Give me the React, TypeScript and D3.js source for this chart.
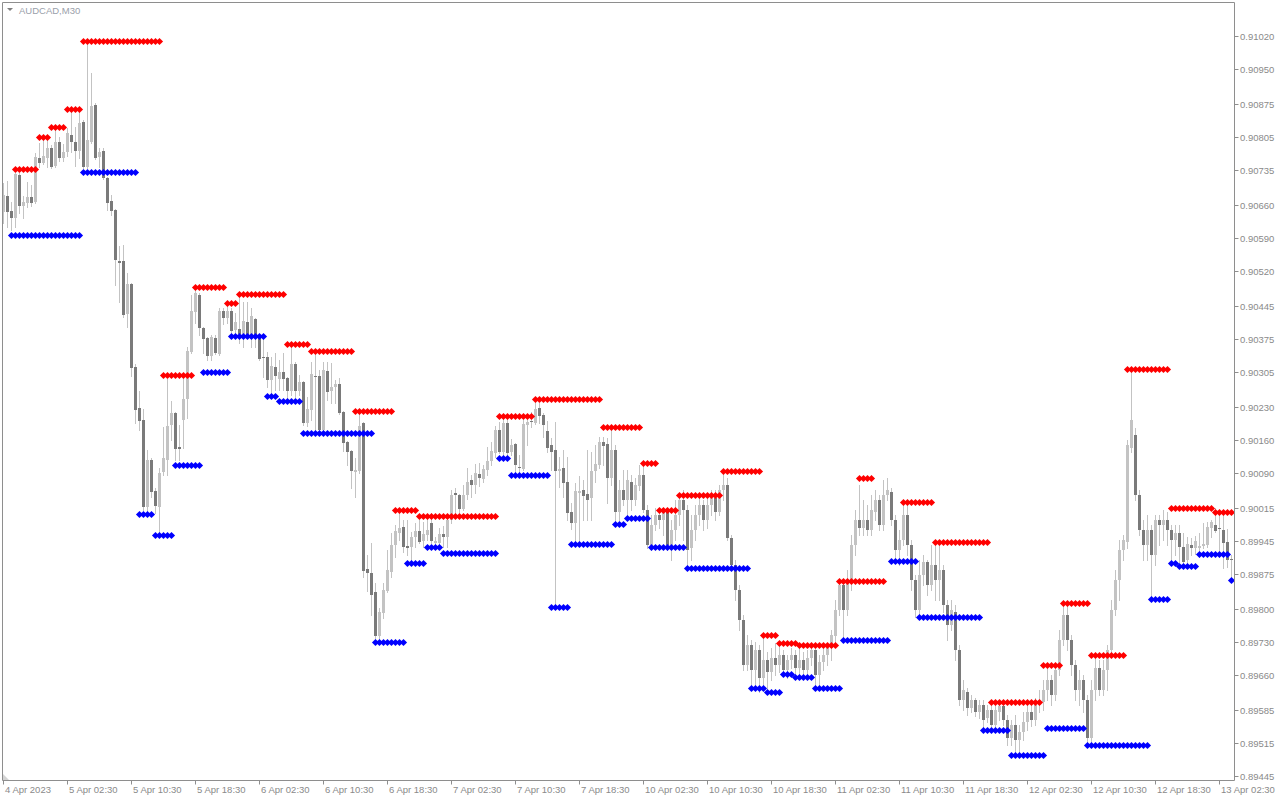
import React from "react";
import * as d3 from "d3";

// [open, high, low, close] per M30 bar, AUDCAD
const ohlc: [number, number, number, number][] = [
  [0.90645, 0.90707, 0.90622, 0.90682], [0.90679, 0.90711, 0.90613, 0.90645], [0.90648, 0.90667, 0.90607, 0.90633], [0.90633, 0.90728, 0.90613, 0.90726],
  [0.90724, 0.90728, 0.90643, 0.90658], [0.90658, 0.90679, 0.90633, 0.90667], [0.90665, 0.90709, 0.90656, 0.90677], [0.90677, 0.90703, 0.90658, 0.90665],
  [0.90667, 0.90771, 0.90665, 0.90762], [0.90760, 0.90792, 0.90741, 0.90750], [0.90750, 0.90799, 0.90748, 0.90765], [0.90760, 0.90799, 0.90741, 0.90782],
  [0.90782, 0.90788, 0.90739, 0.90741], [0.90743, 0.90826, 0.90741, 0.90794], [0.90794, 0.90805, 0.90754, 0.90760], [0.90760, 0.90790, 0.90754, 0.90773],
  [0.90773, 0.90824, 0.90765, 0.90814], [0.90809, 0.90858, 0.90773, 0.90794], [0.90794, 0.90826, 0.90743, 0.90775], [0.90775, 0.90858, 0.90760, 0.90835],
  [0.90837, 0.90841, 0.90739, 0.90741], [0.90741, 0.91006, 0.90739, 0.90799], [0.90794, 0.90941, 0.90792, 0.90871], [0.90873, 0.90877, 0.90758, 0.90760],
  [0.90762, 0.90782, 0.90741, 0.90773], [0.90775, 0.90782, 0.90716, 0.90718], [0.90718, 0.90720, 0.90650, 0.90665], [0.90669, 0.90682, 0.90639, 0.90648],
  [0.90650, 0.90652, 0.90490, 0.90543], [0.90541, 0.90573, 0.90454, 0.90537], [0.90541, 0.90575, 0.90422, 0.90426], [0.90428, 0.90516, 0.90401, 0.90492],
  [0.90492, 0.90494, 0.90296, 0.90313], [0.90316, 0.90322, 0.90196, 0.90224], [0.90228, 0.90265, 0.90182, 0.90201], [0.90203, 0.90226, 0.90011, 0.90018],
  [0.90018, 0.90139, 0.90007, 0.90118], [0.90118, 0.90122, 0.90039, 0.90050], [0.90052, 0.90058, 0.90005, 0.90020], [0.90018, 0.90101, 0.89960, 0.90090],
  [0.90092, 0.90188, 0.90086, 0.90122], [0.90118, 0.90290, 0.90086, 0.90190], [0.90192, 0.90243, 0.90160, 0.90218], [0.90218, 0.90220, 0.90118, 0.90141],
  [0.90145, 0.90192, 0.90118, 0.90141], [0.90203, 0.90299, 0.90143, 0.90248], [0.90248, 0.90358, 0.90207, 0.90350], [0.90348, 0.90469, 0.90345, 0.90435],
  [0.90433, 0.90485, 0.90409, 0.90473], [0.90469, 0.90473, 0.90384, 0.90399], [0.90399, 0.90401, 0.90345, 0.90375], [0.90377, 0.90380, 0.90331, 0.90339],
  [0.90339, 0.90384, 0.90331, 0.90380], [0.90377, 0.90384, 0.90343, 0.90345], [0.90343, 0.90441, 0.90341, 0.90435], [0.90435, 0.90441, 0.90407, 0.90420],
  [0.90420, 0.90452, 0.90409, 0.90435], [0.90435, 0.90441, 0.90384, 0.90392], [0.90394, 0.90431, 0.90380, 0.90411], [0.90396, 0.90471, 0.90367, 0.90386],
  [0.90386, 0.90454, 0.90358, 0.90413], [0.90411, 0.90454, 0.90378, 0.90382], [0.90382, 0.90441, 0.90358, 0.90424], [0.90418, 0.90420, 0.90358, 0.90377],
  [0.90380, 0.90384, 0.90331, 0.90333], [0.90337, 0.90380, 0.90294, 0.90335], [0.90337, 0.90348, 0.90273, 0.90288], [0.90288, 0.90337, 0.90260, 0.90318],
  [0.90316, 0.90345, 0.90267, 0.90296], [0.90290, 0.90331, 0.90267, 0.90305], [0.90305, 0.90345, 0.90267, 0.90290], [0.90292, 0.90294, 0.90245, 0.90265],
  [0.90265, 0.90365, 0.90256, 0.90322], [0.90322, 0.90326, 0.90252, 0.90265], [0.90265, 0.90299, 0.90256, 0.90284], [0.90284, 0.90286, 0.90192, 0.90196],
  [0.90196, 0.90252, 0.90190, 0.90226], [0.90224, 0.90326, 0.90203, 0.90301], [0.90296, 0.90350, 0.90177, 0.90294], [0.90296, 0.90309, 0.90177, 0.90182],
  [0.90182, 0.90326, 0.90177, 0.90309], [0.90307, 0.90326, 0.90245, 0.90262], [0.90265, 0.90324, 0.90239, 0.90273], [0.90273, 0.90288, 0.90239, 0.90280],
  [0.90280, 0.90292, 0.90216, 0.90218], [0.90220, 0.90222, 0.90137, 0.90154], [0.90156, 0.90158, 0.90107, 0.90135], [0.90137, 0.90139, 0.90058, 0.90094],
  [0.90092, 0.90122, 0.90039, 0.90096], [0.90094, 0.90222, 0.90090, 0.90190], [0.90196, 0.90199, 0.89869, 0.89882], [0.89886, 0.89916, 0.89839, 0.89877],
  [0.89877, 0.89941, 0.89788, 0.89830], [0.89837, 0.89856, 0.89730, 0.89743], [0.89743, 0.89803, 0.89735, 0.89794], [0.89792, 0.89856, 0.89782, 0.89841],
  [0.89839, 0.89926, 0.89837, 0.89884], [0.89879, 0.89962, 0.89869, 0.89937], [0.89937, 0.89979, 0.89911, 0.89967], [0.89962, 0.90011, 0.89948, 0.89973],
  [0.89975, 0.89990, 0.89922, 0.89933], [0.89935, 0.89990, 0.89916, 0.89930], [0.89933, 0.89965, 0.89899, 0.89954], [0.89954, 0.89984, 0.89933, 0.89967],
  [0.89967, 0.89990, 0.89941, 0.89943], [0.89945, 0.89986, 0.89933, 0.89960], [0.89958, 0.89994, 0.89948, 0.89969], [0.89984, 0.90005, 0.89941, 0.89945],
  [0.89941, 0.89954, 0.89937, 0.89945], [0.89941, 0.89973, 0.89937, 0.89960], [0.89960, 0.89977, 0.89933, 0.89954], [0.89954, 0.90001, 0.89933, 0.89990],
  [0.89990, 0.90054, 0.89984, 0.90043], [0.90048, 0.90058, 0.89996, 0.90043], [0.90043, 0.90045, 0.90007, 0.90013], [0.90013, 0.90065, 0.90011, 0.90043],
  [0.90043, 0.90101, 0.90035, 0.90071], [0.90075, 0.90086, 0.90039, 0.90065], [0.90065, 0.90109, 0.90048, 0.90090], [0.90088, 0.90111, 0.90062, 0.90079],
  [0.90077, 0.90107, 0.90071, 0.90099], [0.90096, 0.90145, 0.90086, 0.90116], [0.90116, 0.90156, 0.90107, 0.90137], [0.90133, 0.90190, 0.90124, 0.90182],
  [0.90182, 0.90199, 0.90133, 0.90135], [0.90135, 0.90207, 0.90126, 0.90196], [0.90196, 0.90213, 0.90128, 0.90133], [0.90135, 0.90162, 0.90128, 0.90150],
  [0.90152, 0.90154, 0.90092, 0.90107], [0.90103, 0.90128, 0.90092, 0.90101], [0.90099, 0.90203, 0.90096, 0.90194], [0.90192, 0.90214, 0.90150, 0.90199],
  [0.90201, 0.90220, 0.90188, 0.90199], [0.90196, 0.90248, 0.90194, 0.90226], [0.90228, 0.90239, 0.90196, 0.90211], [0.90214, 0.90218, 0.90167, 0.90192],
  [0.90180, 0.90201, 0.90135, 0.90143], [0.90150, 0.90165, 0.90096, 0.90135], [0.90139, 0.90199, 0.89805, 0.90094], [0.90094, 0.90124, 0.90060, 0.90099],
  [0.90101, 0.90139, 0.90039, 0.90069], [0.90071, 0.90124, 0.89990, 0.90005], [0.90007, 0.90026, 0.89971, 0.89984], [0.89984, 0.90069, 0.89943, 0.90052],
  [0.90048, 0.90084, 0.89943, 0.90052], [0.90054, 0.90075, 0.89990, 0.90041], [0.90045, 0.90139, 0.89990, 0.90033], [0.90037, 0.90135, 0.89990, 0.90094],
  [0.90094, 0.90150, 0.90071, 0.90109], [0.90107, 0.90167, 0.90101, 0.90156], [0.90156, 0.90167, 0.90107, 0.90148], [0.90152, 0.90165, 0.90026, 0.90079],
  [0.90079, 0.90188, 0.90065, 0.90139], [0.90139, 0.90150, 0.89982, 0.90007], [0.90007, 0.90075, 0.89990, 0.90054], [0.90054, 0.90096, 0.90022, 0.90033],
  [0.90033, 0.90096, 0.90001, 0.90075], [0.90071, 0.90086, 0.90011, 0.90033], [0.90033, 0.90079, 0.90022, 0.90065], [0.90062, 0.90107, 0.90054, 0.90086],
  [0.90086, 0.90111, 0.90007, 0.90011], [0.90011, 0.90022, 0.89931, 0.89937], [0.89937, 0.90001, 0.89926, 0.89979], [0.89979, 0.90016, 0.89969, 0.90001],
  [0.90001, 0.90016, 0.89973, 0.89990], [0.89990, 0.90011, 0.89958, 0.90007], [0.90007, 0.90011, 0.89926, 0.89937], [0.89937, 0.89990, 0.89905, 0.89969],
  [0.89969, 0.90033, 0.89948, 0.90001], [0.90001, 0.90043, 0.89979, 0.90033], [0.90033, 0.90054, 0.89948, 0.90011], [0.90011, 0.90022, 0.89888, 0.89926],
  [0.89931, 0.90001, 0.89905, 0.89969], [0.89969, 0.90022, 0.89948, 0.90001], [0.90001, 0.90043, 0.89979, 0.90022], [0.90022, 0.90033, 0.89969, 0.89990],
  [0.89990, 0.90043, 0.89973, 0.90022], [0.90022, 0.90054, 0.90001, 0.90037], [0.90037, 0.90054, 0.89990, 0.90007], [0.90007, 0.90065, 0.90001, 0.90054],
  [0.90054, 0.90094, 0.90033, 0.90065], [0.90065, 0.90079, 0.89948, 0.89952], [0.89952, 0.89958, 0.89884, 0.89894], [0.89894, 0.89905, 0.89820, 0.89841],
  [0.89841, 0.89852, 0.89756, 0.89777], [0.89777, 0.89788, 0.89671, 0.89682], [0.89682, 0.89745, 0.89671, 0.89724], [0.89724, 0.89735, 0.89633, 0.89671],
  [0.89671, 0.89730, 0.89639, 0.89713], [0.89713, 0.89724, 0.89624, 0.89654], [0.89654, 0.89745, 0.89628, 0.89692], [0.89692, 0.89709, 0.89624, 0.89667],
  [0.89667, 0.89718, 0.89650, 0.89696], [0.89696, 0.89728, 0.89660, 0.89682], [0.89682, 0.89724, 0.89667, 0.89703], [0.89703, 0.89713, 0.89662, 0.89671],
  [0.89671, 0.89703, 0.89654, 0.89692], [0.89692, 0.89718, 0.89675, 0.89703], [0.89703, 0.89713, 0.89656, 0.89675], [0.89675, 0.89724, 0.89658, 0.89692],
  [0.89692, 0.89709, 0.89656, 0.89671], [0.89671, 0.89713, 0.89660, 0.89696], [0.89696, 0.89724, 0.89682, 0.89713], [0.89713, 0.89718, 0.89633, 0.89660],
  [0.89660, 0.89703, 0.89639, 0.89688], [0.89688, 0.89718, 0.89671, 0.89703], [0.89703, 0.89724, 0.89682, 0.89718], [0.89718, 0.89756, 0.89692, 0.89745],
  [0.89743, 0.89820, 0.89724, 0.89799], [0.89799, 0.89862, 0.89788, 0.89852], [0.89852, 0.89862, 0.89735, 0.89799], [0.89799, 0.89884, 0.89788, 0.89862],
  [0.89862, 0.89958, 0.89841, 0.89937], [0.89937, 0.90011, 0.89916, 0.89990], [0.89990, 0.90065, 0.89958, 0.89973], [0.89973, 0.90033, 0.89958, 0.89990],
  [0.89990, 0.90022, 0.89958, 0.89969], [0.89969, 0.90043, 0.89958, 0.90011], [0.90007, 0.90054, 0.89990, 0.90033], [0.90033, 0.90043, 0.89969, 0.89979],
  [0.89979, 0.90075, 0.89969, 0.90043], [0.90043, 0.90079, 0.90033, 0.90054], [0.90050, 0.90058, 0.89979, 0.89990], [0.89990, 0.90001, 0.89903, 0.89926],
  [0.89926, 0.89969, 0.89894, 0.89948], [0.89948, 0.90028, 0.89937, 0.90001], [0.90001, 0.90022, 0.89916, 0.89937], [0.89937, 0.89948, 0.89841, 0.89862],
  [0.89862, 0.89873, 0.89784, 0.89799], [0.89799, 0.89905, 0.89788, 0.89873], [0.89873, 0.89916, 0.89852, 0.89901], [0.89901, 0.89905, 0.89830, 0.89852],
  [0.89852, 0.89937, 0.89841, 0.89894], [0.89894, 0.89943, 0.89820, 0.89862], [0.89862, 0.89937, 0.89820, 0.89884], [0.89884, 0.89894, 0.89794, 0.89809],
  [0.89809, 0.89820, 0.89735, 0.89767], [0.89767, 0.89820, 0.89756, 0.89799], [0.89794, 0.89809, 0.89692, 0.89713], [0.89713, 0.89724, 0.89596, 0.89607],
  [0.89607, 0.89650, 0.89586, 0.89628], [0.89624, 0.89633, 0.89575, 0.89590], [0.89590, 0.89618, 0.89582, 0.89607], [0.89607, 0.89611, 0.89573, 0.89582],
  [0.89582, 0.89607, 0.89569, 0.89596], [0.89596, 0.89607, 0.89547, 0.89564], [0.89569, 0.89596, 0.89560, 0.89586], [0.89586, 0.89603, 0.89543, 0.89554],
  [0.89554, 0.89596, 0.89547, 0.89586], [0.89582, 0.89601, 0.89564, 0.89594], [0.89594, 0.89607, 0.89554, 0.89564], [0.89564, 0.89575, 0.89511, 0.89526],
  [0.89526, 0.89564, 0.89511, 0.89554], [0.89554, 0.89575, 0.89490, 0.89522], [0.89522, 0.89554, 0.89496, 0.89539], [0.89539, 0.89581, 0.89522, 0.89560],
  [0.89560, 0.89596, 0.89543, 0.89581], [0.89581, 0.89596, 0.89552, 0.89564], [0.89564, 0.89611, 0.89554, 0.89596], [0.89596, 0.89628, 0.89581, 0.89607],
  [0.89603, 0.89650, 0.89586, 0.89628], [0.89628, 0.89682, 0.89607, 0.89650], [0.89650, 0.89660, 0.89596, 0.89618], [0.89618, 0.89682, 0.89607, 0.89671],
  [0.89671, 0.89756, 0.89660, 0.89735], [0.89735, 0.89813, 0.89724, 0.89788], [0.89788, 0.89809, 0.89713, 0.89735], [0.89735, 0.89745, 0.89660, 0.89682],
  [0.89682, 0.89692, 0.89607, 0.89628], [0.89628, 0.89671, 0.89596, 0.89650], [0.89650, 0.89660, 0.89582, 0.89607], [0.89607, 0.89618, 0.89511, 0.89526],
  [0.89526, 0.89650, 0.89517, 0.89628], [0.89628, 0.89703, 0.89607, 0.89675], [0.89675, 0.89692, 0.89618, 0.89628], [0.89628, 0.89692, 0.89618, 0.89671],
  [0.89671, 0.89724, 0.89628, 0.89713], [0.89713, 0.89820, 0.89703, 0.89799], [0.89799, 0.89884, 0.89788, 0.89862], [0.89862, 0.89948, 0.89820, 0.89926],
  [0.89926, 0.89958, 0.89905, 0.89948], [0.89943, 0.90160, 0.89931, 0.90150], [0.90143, 0.90311, 0.90135, 0.90203], [0.90171, 0.90186, 0.90033, 0.90043],
  [0.90043, 0.90054, 0.89958, 0.89969], [0.89969, 0.89990, 0.89905, 0.89937], [0.89937, 0.90001, 0.89905, 0.89969], [0.89969, 0.89979, 0.89822, 0.89916],
  [0.89916, 0.90001, 0.89894, 0.89990], [0.89990, 0.90001, 0.89937, 0.89979], [0.89979, 0.90011, 0.89948, 0.89990], [0.89990, 0.90007, 0.89937, 0.89969],
  [0.89969, 0.89979, 0.89899, 0.89948], [0.89948, 0.89979, 0.89916, 0.89962], [0.89962, 0.89979, 0.89901, 0.89933], [0.89933, 0.89962, 0.89890, 0.89901],
  [0.89905, 0.89954, 0.89890, 0.89939], [0.89937, 0.89952, 0.89916, 0.89931], [0.89931, 0.89956, 0.89918, 0.89945], [0.89931, 0.89962, 0.89911, 0.89935],
  [0.89935, 0.89984, 0.89931, 0.89939], [0.89937, 0.89986, 0.89933, 0.89975], [0.89973, 0.89990, 0.89954, 0.89986], [0.89979, 0.90016, 0.89965, 0.89967],
  [0.89973, 0.90001, 0.89911, 0.89971], [0.89969, 0.90007, 0.89888, 0.89941], [0.89943, 0.89971, 0.89890, 0.89905], [0.89907, 0.89916, 0.89862, 0.89905],
];

// resistance (red) and support (blue) levels: [firstBar, lastBar, price]
const resistance: [number, number, number][] = [
  [3, 8, 0.90737], [9, 11, 0.90805], [12, 15, 0.90826], [16, 19, 0.90865], [20, 39, 0.91009],
  [40, 47, 0.90299], [48, 55, 0.90486], [56, 58, 0.90452], [59, 70, 0.90471], [71, 76, 0.90365],
  [77, 87, 0.90350], [88, 97, 0.90222], [98, 103, 0.90011], [104, 123, 0.89999], [124, 132, 0.90211],
  [133, 149, 0.90248], [150, 159, 0.90188], [160, 163, 0.90111], [164, 168, 0.90011], [169, 179, 0.90043],
  [180, 189, 0.90094], [190, 193, 0.89745], [194, 198, 0.89728], [199, 208, 0.89724], [209, 220, 0.89860],
  [214, 217, 0.90079], [225, 232, 0.90028], [233, 246, 0.89943], [247, 259, 0.89603], [260, 264, 0.89682],
  [265, 271, 0.89813], [272, 280, 0.89703], [281, 291, 0.90311], [292, 302, 0.90016], [303, 307, 0.90007],
];
const support: [number, number, number][] = [
  [2, 19, 0.90597], [20, 33, 0.90731], [34, 37, 0.90003], [38, 42, 0.89958], [43, 49, 0.90107],
  [50, 56, 0.90305], [57, 65, 0.90382], [66, 68, 0.90254], [69, 74, 0.90243], [75, 92, 0.90175],
  [93, 100, 0.89730], [101, 105, 0.89899], [106, 109, 0.89933], [110, 123, 0.89920], [124, 126, 0.90122],
  [127, 136, 0.90086], [137, 141, 0.89805], [142, 152, 0.89939], [153, 155, 0.89982], [156, 161, 0.89994],
  [162, 170, 0.89933], [171, 186, 0.89888], [187, 190, 0.89633], [191, 194, 0.89624], [195, 197, 0.89662],
  [198, 202, 0.89656], [203, 209, 0.89633], [210, 221, 0.89735], [222, 228, 0.89903], [229, 244, 0.89784],
  [245, 251, 0.89543], [252, 260, 0.89490], [261, 270, 0.89547], [271, 286, 0.89511], [287, 291, 0.89822],
  [292, 293, 0.89899], [294, 298, 0.89892], [299, 306, 0.89918], [307, 307, 0.89862],
];

const timeTickBars = [0, 16, 32, 48, 64, 80, 96, 112, 128, 144, 160, 176, 192, 208, 224, 240, 256, 272, 288, 304];
const timeTickLabels = [
  "4 Apr 2023", "5 Apr 02:30", "5 Apr 10:30", "5 Apr 18:30", "6 Apr 02:30", "6 Apr 10:30", "6 Apr 18:30",
  "7 Apr 02:30", "7 Apr 10:30", "7 Apr 18:30", "10 Apr 02:30", "10 Apr 10:30", "10 Apr 18:30", "11 Apr 02:30",
  "11 Apr 10:30", "11 Apr 18:30", "12 Apr 02:30", "12 Apr 10:30", "12 Apr 18:30", "13 Apr 02:30",
];
const priceTickLabels = [
  "0.91020", "0.90950", "0.90875", "0.90805", "0.90735", "0.90660", "0.90590", "0.90520", "0.90445", "0.90375",
  "0.90305", "0.90230", "0.90160", "0.90090", "0.90015", "0.89945", "0.89875", "0.89800", "0.89730", "0.89660",
  "0.89585", "0.89515", "0.89445",
];
const symbolTitle = "AUDCAD,M30";

const FONT = "Tahoma, 'Liberation Sans', Arial, sans-serif";
const AXIS = "#8e8e8e";
const TEXT = "#8a8a8a";
const BULL = "#c3c3c3";
const BEAR = "#7a7a7a";

export default function App() {
  const frameL = 2.5, frameT = 2.5, frameR = 1234.5, frameB = 780.5;
  const x = d3.scaleLinear().domain([0, ohlc.length - 1]).range([3.5, 3.5 + 4 * (ohlc.length - 1)]);
  const y = d3.scaleLinear().domain([0.89445, 0.91020]).range([776, 36]);
  const py = (v: number) => Math.round(y(v));

  const diamond = (cx: number, cy: number) =>
    `M${cx},${cy - 3.6}L${cx + 3.6},${cy}L${cx},${cy + 3.6}L${cx - 3.6},${cy}Z`;

  const markers = (segs: [number, number, number][], color: string, key: string) => {
    const out: React.ReactNode[] = [];
    segs.forEach(([a, b, p], si) => {
      const cy = py(p) + 0.5;
      for (let i = a; i <= b; i++) {
        out.push(<path key={`${key}${si}-${i}`} d={diamond(x(i), cy)} fill={color} />);
      }
    });
    return out;
  };

  return (
    <svg width={1280} height={800} style={{ position: "absolute", left: 0, top: 0, background: "#fff" }}
      fontFamily={FONT}>
      <rect x={0} y={0} width={1280} height={800} fill="#fff" />
      {/* candles */}
      <g>
        {ohlc.map(([o, h, l, c], i) => {
          const cx = x(i);
          const bull = c >= o;
          const top = Math.min(py(o), py(c));
          const bot = Math.max(py(o), py(c));
          return (
            <g key={i}>
              <line x1={cx} x2={cx} y1={py(h)} y2={py(l) + 1} stroke={BULL} strokeWidth={1} />
              <rect x={cx - 1.5} y={top} width={3} height={Math.max(1, bot - top)} fill={bull ? BULL : BEAR} />
            </g>
          );
        })}
      </g>
      {/* support / resistance markers */}
      <g>{markers(resistance, "#ff0000", "r")}</g>
      <g>{markers(support, "#0000ff", "s")}</g>
      {/* frame */}
      <path d={`M${frameL},${frameB}V${frameT}H${frameR}V${frameB}H${frameL}`} fill="none" stroke={AXIS} strokeWidth={1} />
      <path d={`M3,774L3,780L9,780Z`} fill="#d4d4d4" />
      {/* price axis */}
      <g>
        {priceTickLabels.map((t) => {
          const yy = py(parseFloat(t)) + 0.5;
          return (
            <g key={t}>
              <line x1={frameR} x2={frameR + 4} y1={yy} y2={yy} stroke={AXIS} />
              <text x={1240} y={yy} dy="0.35em" fontSize={9.5} fill={TEXT}>{t}</text>
            </g>
          );
        })}
      </g>
      {/* time axis */}
      <g>
        {timeTickBars.map((b, k) => {
          const xx = x(b);
          return (
            <g key={b}>
              <line x1={xx} x2={xx} y1={frameB} y2={frameB + 4} stroke={AXIS} />
              <text x={xx + 1.5} y={793} fontSize={9.5} fill={TEXT}>{timeTickLabels[k]}</text>
            </g>
          );
        })}
      </g>
      {/* title */}
      <path d="M7,8H13L10,11Z" fill="#7f7f7f" />
      <text x={19} y={14} fontSize={9.5} fill="#9aa0aa">{symbolTitle}</text>
    </svg>
  );
}
